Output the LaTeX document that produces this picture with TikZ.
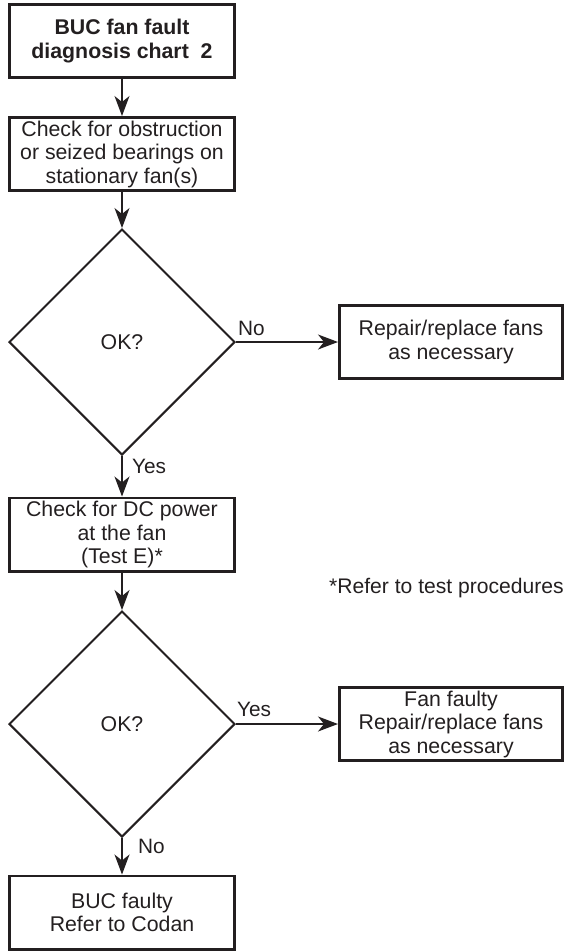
\documentclass[tikz,border=0pt]{standalone}
\usepackage{fontspec}
\setmainfont{Liberation Sans}
\usetikzlibrary{shapes.geometric,arrows.meta}
\definecolor{ink}{HTML}{231F20}
\tikzset{
  every node/.style={text=ink},
  boxnode/.style={draw=ink, line width=2.6pt, rectangle, align=center, inner sep=0pt,
    font=\fontsize{21.3}{23.5}\selectfont},
  leftbox/.style={boxnode, minimum width=225.4pt, minimum height=73.4pt},
  rightbox/.style={boxnode, minimum width=223.4pt, minimum height=73.4pt},
  decision/.style={draw=ink, line width=2pt, diamond, aspect=1, inner sep=0pt,
    minimum width=226pt, minimum height=226pt, font=\fontsize{21.3}{23.5}\selectfont},
  conn/.style={draw=ink, line width=1.3pt, -{Stealth[length=20pt,width=15pt,inset=6pt]}},
  lab/.style={inner sep=0pt, font=\fontsize{20.8}{23}\selectfont},
}
\begin{document}
\begin{tikzpicture}[x=1pt,y=-1pt]
\useasboundingbox (0,0) rectangle (565,951);
\node[leftbox, font=\fontsize{21.3}{23.5}\selectfont\bfseries] (title) at (122,41) {BUC fan fault\\diagnosis chart\ \ 2};
\node[leftbox] (check1) at (122,154) {Check for obstruction\\or seized bearings on\\stationary fan(s)};
\node[decision] (d1) at (122,342) {OK?};
\node[rightbox] (repair) at (451,342) {Repair/replace fans\\as necessary};
\node[leftbox] (check2) at (122,534.5) {Check for DC power\\at the fan\\(Test E)*};
\node[decision] (d2) at (122,724) {OK?};
\node[rightbox] (fan) at (451,724) {Fan faulty\\Repair/replace fans\\as necessary};
\node[leftbox] (buc) at (122,912.5) {BUC faulty\\Refer to Codan};
\node[lab, anchor=base west] (note) at (329,593) {\fontsize{21.1}{23}\selectfont *Refer to test procedures};

\draw[conn] (title.south) -- (check1.north);
\draw[conn] (check1.south) -- (d1.north);
\draw[conn] (d1.east) -- (repair.west);
\draw[conn] (d1.south) -- (check2.north);
\draw[conn] (check2.south) -- (d2.north);
\draw[conn] (d2.east) -- (fan.west);
\draw[conn] (d2.south) -- (buc.north);

\node[lab, anchor=base west] (no1) at (238,335) {No};
\node[lab, anchor=base west] (yes1) at (132,473) {Yes};
\node[lab, anchor=base west] (yes2) at (237,716) {Yes};
\node[lab, anchor=base west] (no2) at (138,853) {No};
\end{tikzpicture}
\end{document}
